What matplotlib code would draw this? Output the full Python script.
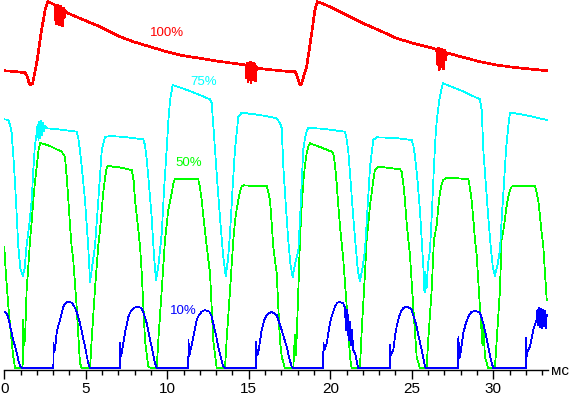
import matplotlib
matplotlib.use("Agg")
import matplotlib.pyplot as plt
import numpy as np

# time in ms, level in arbitrary brightness units
red_pts = [
    (0.00, 299.3), (0.60, 298.5), (1.27, 297.3), (1.37, 295), (1.53, 286.7), (1.62, 285),
    (1.74, 286.7), (1.88, 298.3), (2.02, 310), (2.19, 330), (2.36, 346.7), (2.50, 360),
    (2.64, 367.3), (2.70, 368.3), (2.91, 366.7), (3.11, 365),
    (3.13, 350), (3.17, 364), (3.21, 346), (3.25, 365), (3.30, 352), (3.34, 363), (3.39, 345),
    (3.43, 364), (3.48, 355), (3.52, 362), (3.57, 344), (3.62, 362), (3.67, 352), (3.72, 360),
    (3.83, 357.3), (4.64, 351.7), (5.87, 343.3), (7.10, 333.3), (7.91, 328.3), (8.94, 323.3),
    (9.96, 318.3), (10.98, 314.3), (12.01, 311.7), (13.03, 309), (14.05, 306.7), (14.83, 305),
    (14.88, 292), (14.92, 307), (14.96, 288), (15.00, 306), (15.05, 295), (15.09, 308),
    (15.13, 287), (15.18, 305), (15.22, 290), (15.27, 307), (15.31, 296), (15.36, 306),
    (15.40, 289), (15.45, 304), (15.48, 300),
    (15.58, 301.7), (16.10, 300.7), (17.12, 299), (17.73, 298.3), (17.83, 298.3), (17.94, 295),
    (18.04, 290), (18.14, 285), (18.25, 286.7), (18.45, 298.3), (18.55, 303.3), (18.86, 336.7),
    (19.06, 360), (19.20, 368.3), (19.47, 366.7), (19.98, 363.3), (21.01, 355), (22.02, 346.7),
    (23.05, 339.3), (24.07, 331.7), (25.09, 326.7), (26.53, 320.7),
    (26.60, 305), (26.64, 322), (26.68, 300), (26.72, 320), (26.77, 303), (26.81, 321),
    (26.86, 308), (26.90, 318), (26.95, 301), (27.00, 320), (27.05, 310), (27.10, 318),
    (27.14, 315),
    (27.24, 316.7), (28.16, 312.7), (29.18, 308.3), (30.21, 305), (31.23, 302.7), (32.25, 301),
    (33.28, 299.3),
]

cyan_pts = [
    (0.00, 250.7), (0.25, 250), (0.35, 245), (0.45, 237), (0.55, 215), (0.66, 187), (0.76, 155),
    (0.86, 123.3), (0.98, 102), (1.13, 94), (1.25, 102), (1.37, 125), (1.53, 145), (1.68, 170),
    (1.78, 200), (1.88, 225), (1.99, 237),
    (2.04, 245), (2.10, 230), (2.15, 248), (2.21, 232), (2.25, 249), (2.31, 235), (2.37, 247),
    (2.44, 239), (2.50, 244),
    (2.60, 241.7), (3.42, 240.5), (4.44, 238.3), (4.54, 232), (4.64, 220), (4.77, 200),
    (4.95, 170), (5.15, 123.3), (5.26, 88.3), (5.38, 102), (5.56, 123.3), (5.77, 170),
    (5.98, 220), (6.18, 233), (6.48, 234), (7.40, 233), (8.53, 230.7), (8.63, 225), (8.74, 210),
    (8.88, 185), (9.04, 153.3), (9.18, 115), (9.31, 90), (9.46, 105), (9.66, 137), (9.80, 180),
    (9.96, 220), (10.07, 250), (10.17, 270), (10.33, 285), (11.39, 279), (12.62, 270.7),
    (12.72, 267), (12.80, 250), (12.93, 220), (13.08, 185), (13.23, 153.3), (13.42, 115),
    (13.58, 94), (13.72, 110), (13.85, 137), (14.00, 180), (14.15, 220), (14.36, 253.3),
    (14.56, 257.3), (15.69, 255), (16.71, 251.7), (16.91, 247), (17.02, 242), (17.12, 203.3),
    (17.25, 170), (17.42, 130), (17.56, 105), (17.69, 93), (17.87, 108), (18.04, 120),
    (18.17, 160), (18.34, 220), (18.45, 232), (18.55, 238.3), (18.65, 242.3), (19.67, 241),
    (20.90, 238.3), (20.99, 232), (21.10, 220), (21.24, 190), (21.41, 153.3), (21.58, 120),
    (21.70, 98), (21.82, 89.3), (21.98, 102), (22.13, 120), (22.28, 160), (22.44, 203.3),
    (22.64, 230), (22.85, 232.7), (23.97, 232), (24.99, 230), (25.09, 225), (25.20, 213.3),
    (25.35, 190), (25.50, 160), (25.63, 125), (25.72, 100),
    (25.75, 80), (25.79, 98), (25.83, 78), (25.87, 95), (25.91, 82),
    (25.99, 105), (26.12, 120), (26.24, 160), (26.36, 203.3), (26.48, 240), (26.56, 253.3),
    (26.69, 270), (26.90, 286.7), (27.96, 280), (29.18, 270.7), (29.29, 260), (29.39, 220),
    (29.55, 185), (29.69, 153.3), (29.86, 120), (29.98, 102), (30.10, 94), (30.26, 105),
    (30.41, 120), (30.53, 155), (30.66, 187), (30.78, 220), (30.92, 243.3), (31.02, 257),
    (31.13, 257.3), (32.25, 254), (33.28, 250),
]

green_pts = [
    (0.00, 123.3), (0.10, 95), (0.25, 63.3), (0.41, 35), (0.55, 13.3), (0.66, 1.7), (1.07, 1.7),
    (1.12, 2), (1.17, 50), (1.20, 25), (1.27, 30), (1.37, 80), (1.48, 105), (1.58, 130),
    (1.68, 148), (1.78, 170), (1.88, 188), (1.99, 203.3), (2.10, 220), (2.19, 226.7),
    (2.29, 226.7), (2.80, 224), (3.52, 218.3), (3.72, 213.3), (3.82, 195), (3.93, 170),
    (4.03, 145), (4.13, 123.3), (4.23, 110), (4.44, 63.3), (4.64, 7), (4.75, 1.7), (5.26, 1.7),
    (5.36, 30), (5.56, 80), (5.77, 125), (5.87, 140), (6.07, 177), (6.18, 192), (6.28, 202),
    (6.36, 204), (7.10, 202.5), (7.82, 200), (7.93, 190), (8.02, 170), (8.17, 148),
    (8.33, 123.3), (8.43, 97), (8.53, 65), (8.63, 30), (8.83, 3.3), (9.04, 1.7), (9.35, 1.7),
    (9.45, 30), (9.66, 80), (9.86, 130), (10.06, 160), (10.27, 177), (10.38, 187), (10.47, 191),
    (11.09, 191), (11.90, 190.7), (12.01, 182), (12.11, 170), (12.25, 148), (12.42, 123.3),
    (12.62, 97), (12.82, 30), (13.03, 1.7), (13.54, 1.7), (13.64, 30), (13.85, 80), (14.05, 130),
    (14.15, 148), (14.25, 160), (14.36, 170), (14.46, 178), (14.56, 183.3), (14.66, 184.7),
    (15.38, 184), (16.10, 184), (16.20, 178), (16.30, 170), (16.40, 148), (16.50, 123.3),
    (16.71, 97), (16.91, 30), (17.02, 13.3), (17.22, 1.7), (17.73, 1.7), (17.83, 35),
    (17.90, 15), (18.04, 80), (18.14, 130), (18.23, 160), (18.34, 187), (18.45, 205),
    (18.55, 216.7), (18.66, 224), (18.75, 226.7), (19.37, 223), (20.09, 218.3), (20.18, 216.7),
    (20.29, 205), (20.39, 187), (20.49, 165), (20.60, 143.3), (20.74, 120), (20.80, 110),
    (21.01, 63.3), (21.21, 13.3), (21.31, 1.7), (21.82, 1.7), (21.92, 37), (22.13, 97),
    (22.23, 130), (22.33, 145), (22.44, 165), (22.54, 177), (22.64, 190), (22.74, 200),
    (22.94, 203.3), (23.66, 202), (24.28, 200.7), (24.38, 198.3), (24.49, 185), (24.58, 170),
    (24.67, 150), (24.79, 130), (24.89, 115), (25.09, 63.3), (25.30, 13.3), (25.50, 1.7),
    (25.91, 1.7), (26.01, 30), (26.22, 80), (26.36, 130), (26.53, 145), (26.64, 165),
    (26.73, 177), (26.82, 185), (26.93, 190), (27.14, 192.3), (27.65, 192), (28.47, 190.7),
    (28.57, 182), (28.67, 170), (28.79, 148), (28.88, 130), (28.98, 115), (29.18, 63.3),
    (29.34, 25), (29.39, 45), (29.49, 13.3), (29.69, 1.7), (30.10, 1.7), (30.21, 30),
    (30.41, 80), (30.51, 130), (30.66, 143.3), (30.78, 160), (30.92, 173.3), (31.02, 180),
    (31.13, 183.3), (31.23, 184.3), (31.94, 184), (32.56, 184), (32.65, 178), (32.76, 170),
    (32.86, 155), (32.97, 137), (33.07, 123.3), (33.28, 70),
]

blue_pts = [
    (0.00, 58.3), (0.15, 56.7), (0.25, 52), (0.38, 42), (0.55, 30), (0.72, 20), (0.86, 10),
    (0.96, 4), (1.07, 1.7), (3.01, 1.7), (3.02, 26.7), (3.06, 18), (3.11, 20), (3.21, 37),
    (3.31, 44), (3.42, 50), (3.62, 63.3), (3.79, 67.5), (3.93, 68.3), (4.13, 67.3), (4.28, 64),
    (4.44, 58.3), (4.64, 47), (4.80, 35), (4.95, 23.3), (5.15, 6.7), (5.26, 1.7),
    (7.10, 1.7), (7.11, 26.7), (7.15, 14), (7.20, 17), (7.30, 27), (7.40, 36.7), (7.61, 53.3),
    (7.77, 59), (7.91, 61.7), (8.12, 63.3), (8.26, 63), (8.43, 61.7), (8.57, 56), (8.74, 46.7),
    (8.88, 35), (9.04, 23.3), (9.25, 6.7), (9.35, 1.7),
    (11.29, 1.7), (11.30, 30), (11.34, 14), (11.39, 17), (11.60, 33.3), (11.80, 50), (11.94, 55),
    (12.11, 58.3), (12.31, 60), (12.58, 58.3), (12.71, 54), (12.82, 46.7), (12.99, 35),
    (13.13, 23.3), (13.29, 12), (13.44, 3.3), (13.54, 1.7),
    (15.44, 1.7), (15.45, 28.3), (15.50, 15), (15.58, 16.7), (15.79, 40), (15.93, 49),
    (16.10, 55), (16.40, 58.3), (16.71, 55), (16.85, 48), (17.02, 40), (17.16, 32),
    (17.33, 23.3), (17.47, 13), (17.63, 3.3), (17.73, 1.7),
    (19.57, 1.7), (19.58, 26.7), (19.64, 20), (19.78, 26.7), (19.88, 37), (19.98, 46.7),
    (20.13, 56), (20.29, 63.3), (20.41, 67), (20.55, 68), (20.80, 66.7), (20.90, 62),
    (20.96, 40), (21.01, 60), (21.06, 35), (21.10, 55), (21.16, 30), (21.21, 48), (21.27, 25),
    (21.33, 40), (21.41, 20), (21.52, 16.7), (21.64, 8), (21.72, 1.7),
    (23.66, 1.7), (23.67, 25), (23.72, 15), (23.87, 20), (23.97, 34), (24.07, 43.3), (24.21, 53),
    (24.38, 60), (24.52, 62.5), (24.69, 63.3), (24.83, 62.5), (24.99, 60), (25.13, 53),
    (25.30, 43.3), (25.44, 32), (25.61, 20), (25.81, 3.3), (25.91, 1.7),
    (27.85, 1.7), (27.86, 33.3), (27.91, 12), (27.96, 13.3), (28.06, 25), (28.16, 36.7),
    (28.32, 47), (28.47, 53.3), (28.66, 58), (28.88, 59.3), (29.18, 57.3), (29.39, 46.7),
    (29.55, 35), (29.69, 23.3), (29.86, 10), (30.00, 1.7),
    (32.01, 1.7), (32.02, 32), (32.05, 14), (32.13, 20), (32.25, 23.3), (32.45, 40), (32.66, 50),
    (32.71, 60), (32.76, 45), (32.80, 62), (32.86, 43), (32.93, 61), (32.99, 42), (33.05, 60),
    (33.11, 44), (33.17, 59), (33.23, 42), (33.28, 55),
]

labels = ["100%", "75%", "50%", "10%"]
label_pos = [(9.98, 337), (12.22, 288), (11.33, 207), (10.97, 59.5)]
colors = ["#ff0000", "#00ffff", "#00ff00", "#0000ff"]

plt.rcParams["font.family"] = ["Liberation Sans", "DejaVu Sans"]

fig = plt.figure(figsize=(5.69, 3.96), dpi=100)
ax = fig.add_axes([4.3 / 569, 26 / 396, 545.2 / 569, 370 / 396])

# draw order: green under the others, red on top; no antialiasing, like the scope capture
for pts, col, lw in [(green_pts, colors[2], 0.55), (cyan_pts, colors[1], 0.55),
                     (blue_pts, colors[3], 0.55), (red_pts, colors[0], 1.2)]:
    t, v = zip(*pts)
    ax.plot(t, v, color=col, lw=lw, antialiased=False)

for txt, (x, y), col in zip(labels, label_pos, colors):
    ax.text(x, y, txt, color=col, fontsize=9.5, ha="center", va="center")

ax.set_xlim(0, 33.45)
ax.set_ylim(0, 370)
for s in ["left", "right", "top"]:
    ax.spines[s].set_visible(False)
ax.spines["bottom"].set_bounds(0, 33.37)
ax.spines["bottom"].set_linewidth(1.0)
ax.set_yticks([])
ax.set_xticks(np.arange(0, 31, 5))
ax.set_xticks(np.arange(0, 34, 1), minor=True)
ax.tick_params(axis="x", which="major", length=6.5, width=1, pad=2, labelsize=11)
ax.tick_params(axis="x", which="minor", length=3.6, width=1)
ax.text(34.1, -1, "мс", fontsize=11, ha="center", va="center", clip_on=False)

fig.savefig("out.png", dpi=100)
